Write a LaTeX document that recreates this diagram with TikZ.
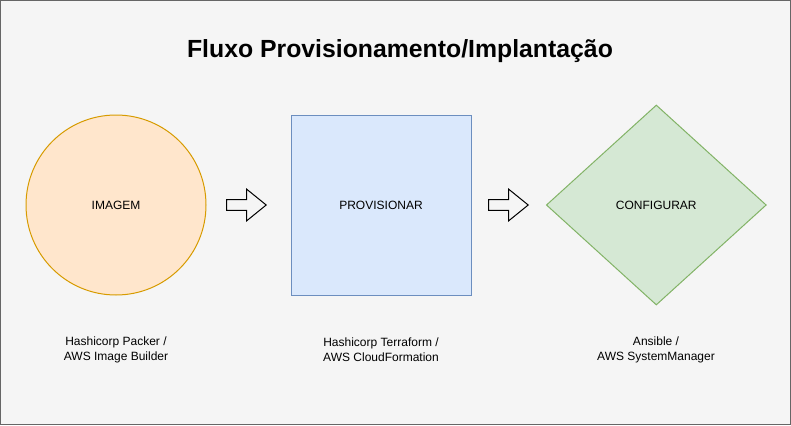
\documentclass[tikz,border=0pt]{standalone}
\usepackage{fontspec}
\setmainfont{Liberation Sans}
\usetikzlibrary{shapes.geometric}
\definecolor{bgfill}{HTML}{F5F5F5}
\definecolor{bgline}{HTML}{666666}
\definecolor{orfill}{HTML}{FFE6CC}
\definecolor{orline}{HTML}{D79B00}
\definecolor{blfill}{HTML}{DAE8FC}
\definecolor{blline}{HTML}{6C8EBF}
\definecolor{grfill}{HTML}{D5E8D4}
\definecolor{grline}{HTML}{82B366}
\tikzset{
  stage/.style={line width=1pt, inner sep=0pt, font=\fontsize{12}{15}\selectfont},
  toolnote/.style={align=center, inner sep=0pt, font=\fontsize{12}{15}\selectfont},
  blockarrow/.style={draw=black, line width=1pt, fill=bgfill, line join=miter},
}
\begin{document}
\begin{tikzpicture}[x=1pt,y=-1pt]
\useasboundingbox (0,0) rectangle (791,425);
\path[fill=bgfill, draw=bgline, line width=1pt] (0.5,0.5) rectangle (790.5,424.5);
\node[font=\bfseries\fontsize{24.8}{28}\selectfont, anchor=base, inner sep=0pt] (title) at (400,57.3) {Fluxo Provisionamento/Implantação};
\node[stage, circle, draw=orline, fill=orfill, minimum size=180pt] (img) at (116,205) {IMAGEM};
\node[stage, rectangle, draw=blline, fill=blfill, minimum width=180pt, minimum height=180pt] (prov) at (381,205) {PROVISIONAR};
\node[stage, diamond, draw=grline, fill=grfill, minimum width=220pt, minimum height=200pt, aspect=1.1] (conf) at (656.3,205) {CONFIGURAR};
\node[toolnote] (imgnote) at (116,349.5) {Hashicorp Packer /\\AWS Image Builder};
\node[toolnote] (provnote) at (381,349.5) {Hashicorp Terraform /\\AWS CloudFormation};
\node[toolnote] (confnote) at (656,349.5) {Ansible /\\AWS SystemManager};
\coordinate (arrowA) at (246.7,205);
\coordinate (arrowB) at (508.7,205);
\foreach \c in {arrowA,arrowB}{
  \draw[blockarrow, shift={(\c)}] (-20,-5.4) -- (0,-5.4) -- (0,-15.8) -- (19.5,0) -- (0,15.8) -- (0,5.4) -- (-20,5.4) -- cycle;
}
\end{tikzpicture}
\end{document}
